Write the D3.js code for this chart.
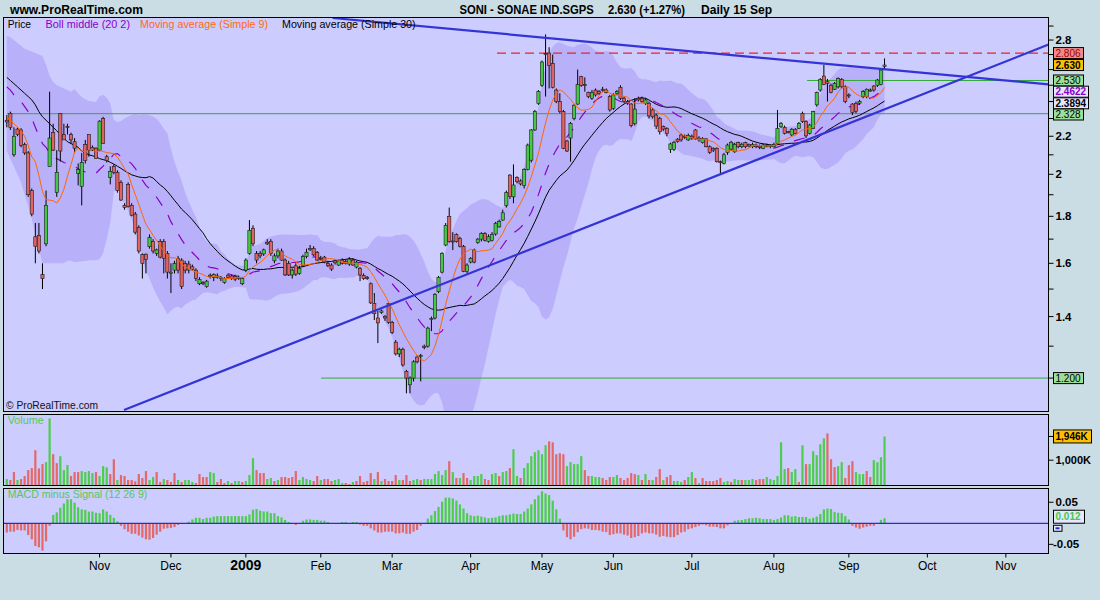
<!DOCTYPE html>
<html><head><meta charset="utf-8">
<script src="https://cdn.jsdelivr.net/npm/d3@7"></script>
<style>
body{margin:0;background:#CADCE4;}
svg{display:block;font-family:"Liberation Sans",Arial,sans-serif;}
</style></head>
<body><svg id="c" width="1100" height="600"></svg>
<script>
// ---------- DATA ----------
const opens=[
2.29,2.33,2.10,2.24,2.235,2.155,2.11,1.92,1.71,1.715,
1.555,1.68,2.04,2.22,1.91,2.33,2.21,2.255,2.21,2.17,
2.005,1.94,2.155,2.21,2.14,2.135,2.125,2.30,2.09,1.985,
2.04,2.01,1.96,1.85,1.95,1.85,1.81,1.75,1.635,1.637,
1.668,1.69,1.64,1.69,1.69,1.64,1.56,1.573,1.62,1.613,
1.60,1.597,1.586,1.573,1.52,1.525,1.51,1.553,1.545,1.55,
1.54,1.525,1.553,1.55,1.548,1.545,1.52,1.573,1.64,1.747,
1.64,1.64,1.638,1.687,1.69,1.61,1.63,1.65,1.613,1.60,
1.554,1.59,1.56,1.59,1.627,1.655,1.66,1.645,1.62,1.625,
1.60,1.593,1.61,1.593,1.613,1.607,1.597,1.613,1.585,1.58,
1.552,1.545,1.52,1.447,1.395,1.415,1.40,1.447,1.38,1.313,
1.275,1.29,1.22,1.18,1.20,1.265,1.27,1.30,1.30,1.393,
1.395,1.49,1.565,1.675,1.80,1.692,1.72,1.703,1.67,1.567,
1.605,1.654,1.685,1.70,1.725,1.69,1.695,1.722,1.753,1.783,
1.85,1.996,1.89,1.983,1.967,1.944,2.024,2.072,2.235,2.389,
2.50,2.708,2.71,2.64,2.47,2.40,2.34,2.174,2.19,2.30,
2.385,2.554,2.505,2.455,2.42,2.47,2.46,2.475,2.47,2.43,
2.36,2.45,2.487,2.42,2.40,2.385,2.27,2.42,2.42,2.39,
2.39,2.35,2.32,2.30,2.254,2.244,2.128,2.128,2.184,2.207,
2.20,2.18,2.20,2.235,2.19,2.165,2.185,2.143,2.134,2.134,
2.064,2.055,2.113,2.13,2.116,2.165,2.143,2.165,2.156,2.143,
2.152,2.147,2.134,2.15,2.145,2.143,2.161,2.253,2.25,2.226,
2.207,2.239,2.244,2.33,2.282,2.216,2.244,2.38,2.47,2.558,
2.522,2.50,2.475,2.49,2.537,2.49,2.44,2.385,2.389,2.39,
2.429,2.429,2.465,2.495,2.50,2.505,2.62];
const highs=[
2.32,2.34,2.25,2.25,2.245,2.165,2.12,1.93,1.77,1.77,
1.60,1.92,2.46,2.27,2.125,2.33,2.27,2.27,2.22,2.19,
2.055,2.11,2.18,2.21,2.15,2.14,2.29,2.31,2.10,2.04,
2.05,2.02,1.97,1.86,1.96,1.86,1.82,1.76,1.64,1.64,
1.72,1.70,1.66,1.70,1.70,1.65,1.60,1.61,1.63,1.62,
1.61,1.61,1.595,1.58,1.545,1.53,1.535,1.56,1.56,1.56,
1.55,1.545,1.56,1.555,1.555,1.55,1.545,1.62,1.783,1.76,
1.65,1.65,1.66,1.70,1.70,1.64,1.66,1.66,1.62,1.61,
1.58,1.60,1.59,1.635,1.66,1.675,1.67,1.65,1.63,1.63,
1.61,1.60,1.615,1.615,1.62,1.615,1.625,1.62,1.61,1.585,
1.56,1.55,1.525,1.485,1.42,1.425,1.405,1.45,1.385,1.32,
1.295,1.295,1.225,1.205,1.255,1.27,1.275,1.305,1.365,1.40,
1.485,1.55,1.645,1.77,1.84,1.73,1.725,1.71,1.675,1.60,
1.625,1.66,1.705,1.73,1.73,1.72,1.73,1.775,1.785,1.83,
1.92,2.00,2.05,1.99,1.975,2.03,2.16,2.24,2.35,2.47,
2.66,2.84,2.75,2.70,2.48,2.45,2.35,2.18,2.28,2.385,
2.60,2.56,2.55,2.46,2.47,2.48,2.47,2.49,2.48,2.44,
2.45,2.47,2.50,2.43,2.41,2.39,2.42,2.43,2.43,2.42,
2.40,2.36,2.33,2.31,2.26,2.25,2.165,2.175,2.19,2.215,
2.21,2.215,2.21,2.24,2.20,2.195,2.19,2.15,2.14,2.14,
2.07,2.11,2.16,2.175,2.165,2.17,2.165,2.17,2.16,2.165,
2.16,2.155,2.16,2.16,2.155,2.165,2.35,2.28,2.26,2.23,
2.245,2.245,2.28,2.34,2.29,2.27,2.345,2.46,2.545,2.63,
2.54,2.51,2.52,2.55,2.545,2.50,2.45,2.39,2.40,2.41,
2.47,2.48,2.48,2.50,2.54,2.60,2.674];
const lows=[
2.25,2.235,2.09,2.20,2.14,2.10,1.89,1.80,1.60,1.64,
1.50,1.67,2.04,2.12,1.89,2.065,2.18,2.21,2.16,2.11,
1.945,1.85,2.055,2.09,2.12,2.08,2.12,2.16,2.06,1.95,
2.00,1.91,1.87,1.83,1.84,1.80,1.72,1.64,1.54,1.56,
1.66,1.64,1.63,1.62,1.56,1.54,1.485,1.56,1.56,1.50,
1.56,1.56,1.57,1.53,1.515,1.515,1.505,1.54,1.53,1.54,
1.53,1.52,1.54,1.535,1.53,1.535,1.515,1.565,1.635,1.67,
1.60,1.62,1.63,1.675,1.63,1.60,1.62,1.61,1.55,1.55,
1.54,1.55,1.555,1.585,1.62,1.65,1.63,1.61,1.61,1.60,
1.585,1.57,1.595,1.59,1.595,1.595,1.59,1.59,1.58,1.53,
1.535,1.535,1.445,1.388,1.31,1.41,1.385,1.375,1.34,1.27,
1.265,1.235,1.155,1.155,1.19,1.245,1.19,1.29,1.295,1.35,
1.39,1.485,1.56,1.67,1.685,1.654,1.685,1.665,1.565,1.56,
1.60,1.60,1.68,1.69,1.69,1.685,1.69,1.715,1.75,1.78,
1.84,1.88,1.86,1.955,1.945,1.93,2.02,2.06,2.23,2.38,
2.49,2.43,2.48,2.48,2.39,2.33,2.13,2.115,2.064,2.29,
2.38,2.49,2.46,2.42,2.41,2.43,2.44,2.46,2.45,2.34,
2.35,2.44,2.41,2.39,2.38,2.25,2.26,2.40,2.39,2.38,
2.30,2.30,2.24,2.21,2.23,2.20,2.11,2.12,2.165,2.17,
2.185,2.175,2.18,2.18,2.17,2.16,2.14,2.105,2.115,2.06,
2.005,2.05,2.10,2.12,2.11,2.135,2.135,2.135,2.14,2.135,
2.135,2.13,2.13,2.14,2.135,2.14,2.155,2.245,2.21,2.215,
2.20,2.21,2.24,2.275,2.19,2.21,2.24,2.37,2.46,2.50,
2.40,2.45,2.47,2.48,2.48,2.39,2.42,2.32,2.33,2.38,
2.42,2.42,2.46,2.46,2.49,2.50,2.605];
const closes=[
2.28,2.25,2.20,2.21,2.15,2.11,1.90,1.81,1.67,1.65,
1.54,1.85,2.19,2.125,2.01,2.12,2.18,2.25,2.18,2.135,
2.025,2.06,2.07,2.125,2.125,2.08,2.285,2.16,2.07,2.015,
2.01,1.92,1.875,1.84,1.845,1.805,1.73,1.65,1.60,1.615,
1.707,1.65,1.655,1.625,1.62,1.565,1.565,1.60,1.573,1.509,
1.573,1.573,1.576,1.54,1.537,1.52,1.53,1.547,1.555,1.545,
1.545,1.54,1.545,1.54,1.538,1.54,1.54,1.613,1.737,1.68,
1.613,1.63,1.655,1.68,1.64,1.63,1.65,1.613,1.554,1.554,
1.573,1.557,1.58,1.627,1.645,1.66,1.634,1.613,1.617,1.605,
1.59,1.577,1.602,1.61,1.60,1.60,1.617,1.593,1.605,1.554,
1.54,1.54,1.449,1.41,1.378,1.42,1.395,1.38,1.345,1.275,
1.29,1.24,1.20,1.20,1.25,1.25,1.27,1.296,1.36,1.392,
1.48,1.545,1.64,1.76,1.69,1.688,1.69,1.67,1.568,1.593,
1.62,1.605,1.70,1.725,1.695,1.71,1.72,1.769,1.776,1.816,
1.91,1.891,1.947,1.963,1.952,2.024,2.152,2.235,2.34,2.46,
2.65,2.70,2.626,2.487,2.40,2.34,2.134,2.12,2.272,2.378,
2.505,2.50,2.50,2.43,2.455,2.44,2.45,2.47,2.455,2.35,
2.44,2.46,2.42,2.40,2.39,2.26,2.355,2.41,2.40,2.41,
2.315,2.31,2.257,2.225,2.24,2.216,2.158,2.167,2.171,2.18,
2.195,2.205,2.19,2.185,2.18,2.188,2.143,2.113,2.125,2.064,
2.06,2.10,2.152,2.167,2.156,2.143,2.156,2.143,2.147,2.156,
2.143,2.14,2.152,2.145,2.15,2.156,2.244,2.272,2.216,2.222,
2.239,2.216,2.272,2.282,2.202,2.263,2.34,2.454,2.537,2.505,
2.512,2.454,2.512,2.543,2.49,2.40,2.435,2.334,2.34,2.40,
2.46,2.475,2.47,2.47,2.533,2.597,2.630];

// volume in thousands, and up(1)/down(0) day flag
const volumes=[
250,211,527,211,250,369,606,685,1397,672,
843,922,2662,1239,883,1160,606,804,369,527,
527,567,527,567,488,527,369,764,712,448,
1041,211,409,369,211,211,158,448,290,567,
211,330,527,132,250,211,132,488,211,132,
211,211,132,92,448,330,330,527,488,132,
250,92,171,92,171,171,132,171,409,1081,
606,488,488,250,290,171,211,330,330,290,
330,567,211,330,250,211,171,369,211,250,
250,171,211,250,92,92,53,132,171,369,
132,171,488,250,527,171,250,171,171,409,
211,211,409,171,211,250,211,250,250,250,
448,567,409,606,962,527,290,290,488,290,
211,369,369,448,250,211,448,488,369,527,
567,685,1437,369,290,685,883,1160,1318,1397,
1239,1595,1753,
1713,1239,1278,1239,764,922,843,843,1160,606,
369,369,330,330,290,211,330,330,409,290,
211,290,488,448,409,211,448,211,211,330,
646,211,330,409,171,171,132,211,330,527,
290,92,290,171,171,171,211,290,132,171,
132,250,211,211,211,211,250,211,250,250,
330,250,211,369,1713,646,685,527,646,132,
1595,843,843,1357,1199,1634,1872,2069,1041,725,
764,922,290,804,962,527,448,448,567,330,
1002,922,1120,1946];
const volumeUp=[
1,0,0,1,0,0,0,0,0,0, 0,1,1,0,0,1,1,1,0,0, 0,1,1,1,1,0,1,1,1,0,
0,1,0,0,0,0,0,0,0,0, 1,1,0,0,1,0,0,0,1,0, 1,1,1,0,0,0,0,1,1,0,
0,0,1,0,1,1,0,1,1,1, 0,0,0,1,1,0,1,0,0,0, 0,0,1,1,1,1,0,0,1,0,
0,0,1,1,1,0,0,1,0,0, 0,0,0,1,0,1,0,0,0,0, 1,0,0,0,1,1,0,1,1,1,
1,1,1,1,0,1,0,1,0,0, 1,1,1,1,0,0,1,1,0,1, 1,0,1,1,0,1,1,1,1,1,
1,1,0,
0,0,0,0,1,1,1,1,1,0, 0,1,1,1,0,0,0,1,1,0, 0,0,0,0,1,0,1,0,1,0,
0,1,0,0,1,1,1,0,1,1, 0,1,0,0,0,0,0,0,1,1, 0,1,1,0,1,1,1,0,0,0,
1,1,1,1,1,1,0,1,1,0, 1,0,1,1,1,1,1,0,0,0, 1,1,0,0,0,1,1,1,0,0,
1,1,1,1];

// MACD minus Signal (12 26 9) histogram
const macdHist=[
-0.022,-0.020,-0.020,-0.016,-0.017,-0.017,-0.028,-0.038,-0.054,-0.057,
-0.065,-0.043,-0.006,0.020,0.026,0.037,0.047,0.057,0.057,0.049,
0.038,0.033,0.032,0.028,0.028,0.025,0.024,0.033,0.028,0.020,
0.013,0.005,-0.006,-0.014,-0.020,-0.025,-0.025,-0.029,-0.034,-0.038,
-0.039,-0.035,-0.027,-0.020,-0.013,-0.012,-0.011,-0.009,-0.004,0,
0,0.004,0.009,0.013,0.013,0.010,0.013,0.013,0.016,0.017,
0.017,0.017,0.017,0.017,0.017,0.017,0.017,0.017,0.021,0.032,
0.034,0.030,0.028,0.028,0.024,0.024,0.017,0.014,0.008,0.003,
0,-0.004,0,0.006,0.009,0.009,0.008,0.008,0.006,0.006,
0.003,0,0,0,0.003,0.003,0,0.003,0.003,-0.003,
-0.006,-0.006,-0.012,-0.017,-0.022,-0.022,-0.020,-0.020,-0.020,-0.024,
-0.024,-0.022,-0.025,-0.025,-0.020,-0.016,-0.006,0,0.011,0.019,
0.029,0.039,0.051,0.061,0.061,0.059,0.054,0.045,0.035,0.024,
0.019,0.017,0.018,0.016,0.014,0.012,0.013,0.014,0.017,0.019,
0.019,0.021,0.023,0.022,0.022,0.028,0.035,0.045,0.057,0.066,
0.076,0.071,0.067,
0.054,0.033,0.011,-0.017,-0.033,-0.038,-0.032,-0.021,-0.014,-0.012,
-0.013,-0.016,-0.016,-0.017,-0.020,-0.021,-0.028,-0.026,-0.024,-0.024,
-0.027,-0.029,-0.035,-0.033,-0.030,-0.024,-0.022,-0.024,-0.024,-0.027,
-0.032,-0.030,-0.032,-0.033,-0.033,-0.028,-0.022,-0.020,-0.014,-0.012,
-0.009,-0.006,-0.003,-0.005,-0.008,-0.008,-0.009,-0.012,-0.012,-0.005,
-0.002,0.006,0.007,0.008,0.010,0.012,0.012,0.013,0.012,0.010,
0.010,0.010,0.008,0.010,0.014,0.019,0.019,0.016,0.017,0.015,
0.015,0.015,0.011,0.013,0.016,0.022,0.033,0.035,0.034,0.027,
0.025,0.024,0.017,0.009,-0.006,-0.010,-0.013,-0.010,-0.008,-0.006,
-0.006,0,0.008,0.012];

// indicator values before their window is full
const ma9Head=[2.31,2.29,2.27,2.25,2.23,2.20,2.15,2.09];
const ma30Head=[2.55,2.53,2.51,2.49,2.47,2.45,2.43,2.41,2.38,2.34,2.31,2.29,2.27,2.25,2.23,2.21,2.19,2.17,2.16,2.15,2.14,2.12,2.11,2.10,2.095,2.09,2.08,2.075,2.07];
const bollMidHead=[2.49,2.47,2.44,2.42,2.40,2.37,2.34,2.30,2.25,2.20,2.16,2.14,2.11,2.09,2.08,2.07,2.06,2.055,2.05];
const bollUpHead=[2.83,2.82,2.80,2.78,2.76,2.74,2.73,2.72,2.71,2.70,2.69,2.63,2.56,2.52,2.50,2.49,2.48,2.47,2.46];
const bollLoHead=[2.12,2.08,2.04,2.00,1.96,1.90,1.85,1.79,1.72,1.66,1.60,1.60,1.60,1.60,1.60,1.60,1.60,1.61,1.61];

// x axis: trading-day index of the first session of each month
const monthLabels=["Nov","Dec","2009","Feb","Mar","Apr","May","Jun","Jul","Aug","Sep","Oct","Nov"];
const monthIndex=[26,46,67,88,108,130,150,170,192,215,236,258,280];
const lastIndex=292;

// price ticks (labels 1.2, 2.4, 2.6 are hidden behind value tags in the reference)
const priceTicks=[1.2,1.3,1.4,1.5,1.6,1.7,1.8,1.9,2.0,2.1,2.2,2.3,2.4,2.5,2.6,2.7,2.8,2.9];
const priceTickLabels=[1.4,1.6,1.8,2.0,2.2,2.8];

// drawn objects (index, price)
const trendFalling=[[91.3,2.959],[292,2.505]];
const trendRising=[[32.85,1.108],[292,2.769]];
const resistancePrice=2.71, resistanceStart=137.4;
const greenLevels=[2.530,2.328,1.200];
const greenLevelStart=[224.3,0,88.1];

// right-hand value tags (top to bottom)
const tagValues=[2.71,2.630,2.530,2.4622,2.3894,2.328,1.200];
const tagTexts=["2.806","2.630","2.530","2.4622","2.3894","2.328","1.200"];
const volTicks=[1000];
const volLast=1946;
const macdTicks=[0.05,-0.05];
const macdLast=0.012;

// ---------- CHART ----------
const svg=d3.select("#c");
const L=3.5,R=1048.5;
const main={t:17.5,b:411.5}, vol={t:414.5,b:485.5}, mac={t:488.5,b:553.5};
const COL={bg:"#CCCCFF",band:"#B9B0FA",up:"#46C846",down:"#E06262",
  vup:"#4ECC4E",vdn:"#E36868",blue:"#3434D6",green:"#33AA33"};

const x=d3.scaleLinear().domain([0,lastIndex]).range([6.8,6.8+3.568*lastIndex]);
const y=d3.scaleLog().domain([1.105,2.959]).range([411,18]);
const yv=d3.scaleLinear().domain([0,2840]).range([485.3,414]);
const ym=d3.scaleLinear().domain([-0.0713,0.0831]).range([553.3,488.3]);

svg.append("rect").attr("width",1100).attr("height",600).attr("fill","#CADCE4");

[main,vol,mac].forEach(p=>{
  svg.append("rect").attr("x",L).attr("y",p.t).attr("width",R-L).attr("height",p.b-p.t)
    .attr("fill",COL.bg);
});
const defs=svg.append("defs");
defs.append("clipPath").attr("id","cm").append("rect").attr("x",L).attr("y",main.t).attr("width",R-L).attr("height",main.b-main.t);

const n=closes.length;
function sma(i,k){let s=0;for(let j=i-k+1;j<=i;j++)s+=closes[j];return s/k;}
const ma9=closes.map((_,i)=>i<8?ma9Head[i]:sma(i,9));
const ma30=closes.map((_,i)=>i<29?ma30Head[i]:sma(i,30));
const boll=closes.map((_,i)=>{
  if(i<19) return {m:bollMidHead[i],u:bollUpHead[i],l:bollLoHead[i]};
  const m=sma(i,20);let v=0;for(let j=i-19;j<=i;j++)v+=(closes[j]-m)**2;
  const sd=Math.sqrt(v/20);return {m,u:m+2*sd,l:m-2*sd};
});

const gm=svg.append("g").attr("clip-path","url(#cm)");
gm.append("path").datum(boll)
  .attr("d",d3.area().x((d,i)=>x(i)).y0(d=>y(d.l)).y1(d=>y(d.u)))
  .attr("fill",COL.band);

greenLevels.forEach((p,k)=>{
  gm.append("line").attr("x1",Math.max(L,x(greenLevelStart[k]))).attr("x2",R)
    .attr("y1",y(p)).attr("y2",y(p)).attr("stroke",COL.green).attr("stroke-width",1);
});
gm.append("line").attr("x1",x(resistanceStart)).attr("x2",R)
  .attr("y1",y(resistancePrice)).attr("y2",y(resistancePrice))
  .attr("stroke","#EE2020").attr("stroke-width",1.2).attr("stroke-dasharray","9,5");

gm.append("path").datum(ma30).attr("d",d3.line().x((d,i)=>x(i)).y(d=>y(d)))
  .attr("fill","none").attr("stroke","#000").attr("stroke-width",1);
gm.append("path").datum(boll).attr("d",d3.line().x((d,i)=>x(i)).y(d=>y(d.m)))
  .attr("fill","none").attr("stroke","#8A00C8").attr("stroke-width",1.2).attr("stroke-dasharray","11,11");

const cg=gm.append("g");
for(let i=0;i<n;i++){
  const o=opens[i],c=closes[i],h=Math.max(highs[i],o,c),l=Math.min(lows[i],o,c);
  const cx=x(i);
  cg.append("line").attr("x1",cx).attr("x2",cx).attr("y1",y(h)).attr("y2",y(l))
    .attr("stroke","#000").attr("stroke-width",1);
  const top=y(Math.max(o,c)),bot=y(Math.min(o,c));
  cg.append("rect").attr("x",cx-1.6).attr("width",3.2).attr("y",top)
    .attr("height",Math.max(1,bot-top))
    .attr("fill",c>=o?COL.up:COL.down).attr("stroke","#1a1a1a").attr("stroke-width",0.6);
}
gm.append("path").datum(ma9).attr("d",d3.line().x((d,i)=>x(i)).y(d=>y(d)))
  .attr("fill","none").attr("stroke","#FF6600").attr("stroke-width",1);

const leg=[["Price","#000",7.7,23.3],["Boll middle (20 2)","#8A00C8",45.6,84.4],
  ["Moving average (Simple 9)","#FF6A10",140,128],["Moving average (Simple 30)","#000",282,133.6]];
leg.forEach(d=>svg.append("text").attr("x",d[2]).attr("y",28).attr("font-size",10.5)
  .attr("fill",d[1]).attr("textLength",d[3]).attr("lengthAdjust","spacingAndGlyphs").text(d[0]));

[trendFalling,trendRising].forEach(t=>{
  gm.append("line").attr("x1",x(t[0][0])).attr("y1",y(t[0][1]))
    .attr("x2",x(t[1][0])).attr("y2",y(t[1][1]))
    .attr("stroke",COL.blue).attr("stroke-width",2.2);
});
svg.append("text").attr("x",6).attr("y",409).attr("font-size",10.5).attr("fill","#111")
  .attr("textLength",92).attr("lengthAdjust","spacingAndGlyphs").text("\u00A9 ProRealTime.com");

const vg=svg.append("g");
volumes.forEach((v,i)=>{
  vg.append("rect").attr("x",x(i)-1.1).attr("width",2.2).attr("y",yv(v))
    .attr("height",yv(0)-yv(v)).attr("fill",volumeUp[i]?COL.vup:COL.vdn);
});
svg.append("text").attr("x",7.7).attr("y",424).attr("font-size",10.5).attr("fill","#55C855")
  .attr("textLength",36).attr("lengthAdjust","spacingAndGlyphs").text("Volume");

const mg=svg.append("g");
macdHist.forEach((v,i)=>{
  if(v===0) return;
  mg.append("rect").attr("x",x(i)-1.1).attr("width",2.2)
    .attr("y",Math.min(ym(v),ym(0))).attr("height",Math.abs(ym(v)-ym(0)))
    .attr("fill",v>0?COL.vup:COL.vdn);
});
svg.append("line").attr("x1",L).attr("x2",R).attr("y1",ym(0)).attr("y2",ym(0))
  .attr("stroke","#2C2CC8").attr("stroke-width",1.2);
svg.append("text").attr("x",7.7).attr("y",498).attr("font-size",10.5).attr("fill","#55C855")
  .attr("textLength",139.6).attr("lengthAdjust","spacingAndGlyphs").text("MACD minus Signal (12 26 9)");

[main,vol,mac].forEach(p=>{
  svg.append("rect").attr("x",L).attr("y",p.t).attr("width",R-L).attr("height",p.b-p.t)
    .attr("fill","none").attr("stroke","#000").attr("stroke-width",1);
});

// right price axis
const ax=svg.append("g").attr("font-weight","bold").attr("font-size",11.5);
priceTicks.forEach(p=>{
  ax.append("line").attr("x1",R).attr("x2",R+5).attr("y1",y(p)).attr("y2",y(p)).attr("stroke","#000");
});
priceTickLabels.forEach(p=>{
  ax.append("text").attr("x",1055.5).attr("y",y(p)+4).text(String(+p.toFixed(1)));
});

// value tags, stacked so they do not collide
const tagStyle={
  "2.3894":{f:"#E6E6FF",c:"#000",b:true,w:35},
  "2.4622":{f:"#E6E6FF",c:"#8A00C8",b:true,w:35},
  "2.530":{f:"#9ADF9A",c:"#000",b:false,w:30},
  "2.328":{f:"#9ADF9A",c:"#000",b:false,w:30},
  "1.200":{f:"#9ADF9A",c:"#000",b:false,w:30},
  "2.806":{f:"#F28A8A",c:"#A00000",b:false,w:30},
  "2.630":{f:"#FFC000",c:"#000",b:true,w:30}
};
function tag(yc,txt,st,h){
  h=h||11;
  svg.append("rect").attr("x",1053.5).attr("y",yc-h/2).attr("width",st.w).attr("height",h)
    .attr("fill",st.f).attr("stroke","#000").attr("stroke-width",1);
  svg.append("text").attr("x",1055.5).attr("y",yc+3.6).attr("font-size",10)
    .attr("font-weight",st.b?"bold":"normal").attr("fill",st.c).text(txt);
}
const tagY=[];
tagValues.forEach((v,k)=>{
  let yy=y(v);
  if(k>0) yy=Math.max(yy,tagY[k-1]+11.2);
  tagY.push(yy);
});
tagValues.forEach((v,k)=>tag(tagY[k],tagTexts[k],tagStyle[tagTexts[k]]));

// volume axis
const fmtK=v=>d3.format(",")(v)+"K";
volTicks.forEach(v=>{
  svg.append("line").attr("x1",R).attr("x2",R+5).attr("y1",yv(v)).attr("y2",yv(v)).attr("stroke","#000");
  svg.append("text").attr("x",1055.5).attr("y",yv(v)+4).attr("font-size",11).attr("font-weight","bold").text(fmtK(v));
});
svg.append("line").attr("x1",R).attr("x2",R+5).attr("y1",yv(volLast)).attr("y2",yv(volLast)).attr("stroke","#000");
tag(yv(volLast),fmtK(volLast),{f:"#FFC000",c:"#000",b:true,w:38},13);

// macd axis
macdTicks.forEach(v=>{
  svg.append("line").attr("x1",R).attr("x2",R+5).attr("y1",ym(v)).attr("y2",ym(v)).attr("stroke","#000");
  svg.append("text").attr("x",v<0?1053:1055.5).attr("y",ym(v)+4).attr("font-size",11.5).attr("font-weight","bold").text(String(v));
});
svg.append("rect").attr("x",1053.5).attr("y",ym(0)+2).attr("width",8.5).attr("height",6)
  .attr("fill","#E6E6FF").attr("stroke","#000");
svg.append("line").attr("x1",1055.5).attr("x2",1059.5).attr("y1",ym(0)+5).attr("y2",ym(0)+5).attr("stroke","#2C2CC8").attr("stroke-width",2);
tag(ym(macdLast)-1.5,String(macdLast),{f:"#E6E6FF",c:"#44C844",b:true,w:31},13);

// x axis
monthIndex.forEach((mi,k)=>{
  const xx=x(mi);
  svg.append("line").attr("x1",xx).attr("x2",xx).attr("y1",mac.b).attr("y2",mac.b+4).attr("stroke","#000");
  const is09=monthLabels[k]==="2009";
  svg.append("text").attr("x",xx).attr("y",569.5).attr("text-anchor","middle")
    .attr("font-size",is09?14:12).attr("font-weight",is09?"bold":"normal").text(monthLabels[k]);
});

// title
const tt=svg.append("g").attr("font-weight","bold").attr("font-size",12.5);
tt.append("text").attr("x",10).attr("y",13.5).attr("font-size",13).attr("textLength",133)
  .attr("lengthAdjust","spacingAndGlyphs").text("www.ProRealTime.com");
tt.append("text").attr("x",459.5).attr("y",13.5).attr("textLength",134.3).attr("lengthAdjust","spacingAndGlyphs").text("SONI - SONAE IND.SGPS");
tt.append("text").attr("x",608).attr("y",13.5).attr("textLength",77).attr("lengthAdjust","spacingAndGlyphs").text("2.630 (+1.27%)");
tt.append("text").attr("x",701).attr("y",13.5).attr("textLength",71).attr("lengthAdjust","spacingAndGlyphs").text("Daily  15 Sep");
</script></body></html>
